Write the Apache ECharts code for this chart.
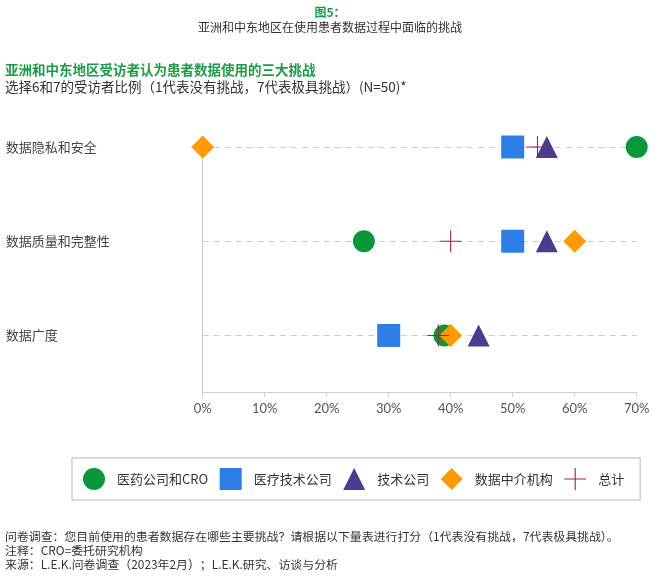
<!DOCTYPE html>
<html>
<head>
<meta charset="utf-8">
<script src="https://cdn.jsdelivr.net/npm/echarts@6/dist/echarts.min.js"></script>
<style>
  html, body { margin: 0; padding: 0; background: #fff; }
  #main { width: 660px; height: 580px; }
</style>
</head>
<body>
<div id="main"></div>
<script>
var categories = ['数据隐私和安全', '数据质量和完整性', '数据广度'];
var seriesNames = ['医药公司和CRO', '医疗技术公司', '技术公司', '数据中介机构', '总计'];
// percent values per category, same order as categories
var pharmaCro = [70, 26, 39];
var medtech = [50, 50, 30];
var techCos = [55.5, 55.5, 44.5];
var dataBrokers = [0, 60, 40];
var total = [54, 40, 38];
var xTicks = [0, 10, 20, 30, 40, 50, 60, 70];

var CJK = '"Noto Sans CJK SC", "Noto Sans", sans-serif';
var crossPath = 'path://M0,9.5H9.5V0H10.5V9.5H20V10.5H10.5V20H9.5V10.5H0Z';

function toPoints(values) {
    return values.map(function (v, i) { return [v, i]; });
}

var styles = [
    { symbol: 'circle', size: 22, color: '#07983b' },
    { symbol: 'rect', size: 23, color: '#2d7ee6' },
    { symbol: 'triangle', size: 22, color: '#4a3d8f' },
    { symbol: 'diamond', size: 23, color: '#ff9a00' },
    { symbol: crossPath, size: 22, color: '#a01e50' }
];
var allValues = [pharmaCro, medtech, techCos, dataBrokers, total];

var myChart = echarts.init(document.getElementById('main'));
myChart.setOption({
    animation: false,
    textStyle: { fontFamily: CJK },
    graphic: [
        { type: 'text', style: { text: '图5：', x: 330, y: 12, align: 'center', verticalAlign: 'middle', fill: '#1f9a4a', font: 'bold 12px ' + CJK } },
        { type: 'text', style: { text: '亚洲和中东地区在使用患者数据过程中面临的挑战', x: 330, y: 27, align: 'center', verticalAlign: 'middle', fill: '#333', font: '12px ' + CJK } },
        { type: 'text', style: { text: '亚洲和中东地区受访者认为患者数据使用的三大挑战', x: 5, y: 70, verticalAlign: 'middle', fill: '#1f9a4a', font: 'bold 13.5px ' + CJK } },
        { type: 'text', style: { text: '选择6和7的受访者比例（1代表没有挑战，7代表极具挑战）(N=50)*', x: 5, y: 87, verticalAlign: 'middle', fill: '#333', font: '13.5px ' + CJK } },
        { type: 'text', style: { text: '问卷调查：您目前使用的患者数据存在哪些主要挑战？请根据以下量表进行打分（1代表没有挑战，7代表极具挑战）。', x: 5, y: 536, verticalAlign: 'middle', fill: '#333', font: '11.9px ' + CJK } },
        { type: 'text', style: { text: '注释：CRO=委托研究机构', x: 5, y: 550, verticalAlign: 'middle', fill: '#333', font: '11.9px ' + CJK } },
        { type: 'text', style: { text: '来源：L.E.K.问卷调查（2023年2月）；L.E.K.研究、访谈与分析', x: 5, y: 564, verticalAlign: 'middle', fill: '#333', font: '11.9px ' + CJK } }
    ],
    legend: {
        data: seriesNames,
        left: 72,
        top: 458,
        orient: 'horizontal',
        itemWidth: 22,
        itemHeight: 22,
        itemGap: 11.5,
        padding: [10, 16, 10, 11],
        borderColor: '#cfcfcf',
        borderWidth: 1.5,
        textStyle: { fontSize: 13, color: '#333', fontFamily: CJK, padding: [0, 0, 0, 7] }
    },
    grid: {
        left: 202.7,
        right: 23.3,
        top: 147,
        bottom: 188,
        containLabel: false
    },
    xAxis: {
        type: 'value',
        min: xTicks[0],
        max: xTicks[xTicks.length - 1],
        interval: 10,
        axisLine: { show: true, onZero: false, lineStyle: { color: '#d0d0d0', width: 1.2 } },
        axisTick: { show: true, length: 5, lineStyle: { color: '#d0d0d0' } },
        axisLabel: { formatter: '{value}%', color: '#555', fontSize: 13, margin: 10, fontFamily: 'Lato, ' + CJK },
        splitLine: { show: false }
    },
    yAxis: {
        type: 'value',
        inverse: true,
        min: 0,
        max: 2.6,
        interval: 1,
        axisLine: { show: true, onZero: false, lineStyle: { color: '#d0d0d0', width: 1.2 } },
        axisTick: { show: false },
        axisLabel: {
            align: 'left',
            margin: 197,
            color: '#444',
            fontSize: 13,
            formatter: function (v) {
                return Number.isInteger(v) && categories[v] ? categories[v] : '';
            }
        },
        splitLine: {
            show: true,
            showMaxLine: false,
            lineStyle: { color: '#cccccc', type: [6, 5], width: 1 }
        }
    },
    series: seriesNames.map(function (name, k) {
        return {
            name: name,
            type: 'scatter',
            symbol: styles[k].symbol,
            symbolSize: styles[k].size,
            symbolKeepAspect: true,
            clip: false,
            itemStyle: { color: styles[k].color, opacity: 1 },
            data: toPoints(allValues[k])
        };
    })
});
</script>
</body>
</html>
